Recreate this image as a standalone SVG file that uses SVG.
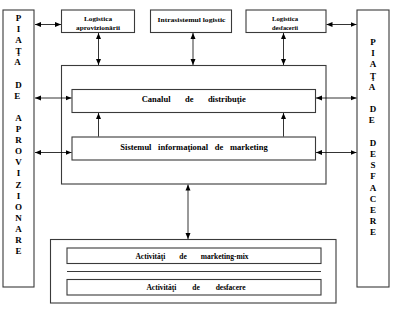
<svg xmlns="http://www.w3.org/2000/svg" width="400" height="311" viewBox="0 0 400 311">
<defs>
<marker id="ah" viewBox="0 0 6 6" refX="6" refY="3" markerWidth="6" markerHeight="6" markerUnits="userSpaceOnUse" orient="auto-start-reverse">
<path d="M0,0.5 L6,3 L0,5.5 Z" fill="#000"/>
</marker>
<style>
.box{fill:#fff;stroke:#3a3a3a;stroke-width:1.1}
.t{font-family:"Liberation Serif","Times New Roman",serif;font-weight:bold;fill:#000;text-anchor:middle}
.col{font-size:9px}
.sm{font-size:7px}
.bt{font-size:7.5px}
.md{font-size:8.5px}
.ar{stroke:#000;stroke-width:0.8;fill:none;marker-start:url(#ah);marker-end:url(#ah)}
.au{stroke:#000;stroke-width:0.8;fill:none;marker-end:url(#ah)}
</style>
</defs>
<rect width="400" height="311" fill="#fff"/>

<g id="piata-aprovizionare">
<rect class="box" x="3" y="10" width="31" height="277"/>
<text class="t col">
<tspan x="18.5" y="21">P</tspan><tspan x="18.5" y="32.1">I</tspan><tspan x="18.5" y="43.2">A</tspan><tspan x="18.5" y="54.3">Ţ</tspan><tspan x="18.5" y="65.4">A</tspan>
<tspan x="18.5" y="87.6">D</tspan><tspan x="18.5" y="98.7">E</tspan>
<tspan x="18.5" y="120.9">A</tspan><tspan x="18.5" y="132">P</tspan><tspan x="18.5" y="143.1">R</tspan><tspan x="18.5" y="154.2">O</tspan><tspan x="18.5" y="165.3">V</tspan><tspan x="18.5" y="176.4">I</tspan><tspan x="18.5" y="187.5">Z</tspan><tspan x="18.5" y="198.6">I</tspan><tspan x="18.5" y="209.7">O</tspan><tspan x="18.5" y="220.8">N</tspan><tspan x="18.5" y="231.9">A</tspan><tspan x="18.5" y="243">R</tspan><tspan x="18.5" y="254.1">E</tspan>
</text>
</g>

<g id="piata-desfacere">
<rect class="box" x="357" y="10" width="32" height="277"/>
<text class="t col">
<tspan x="373" y="45">P</tspan><tspan x="373" y="56.2">I</tspan><tspan x="373" y="67.4">A</tspan><tspan x="373" y="78.6">Ţ</tspan><tspan x="373" y="89.8">A</tspan>
<tspan x="373" y="112.2">D</tspan><tspan x="373" y="123.4">E</tspan>
<tspan x="373" y="145.8">D</tspan><tspan x="373" y="157">E</tspan><tspan x="373" y="168.2">S</tspan><tspan x="373" y="179.4">F</tspan><tspan x="373" y="190.6">A</tspan><tspan x="373" y="201.8">C</tspan><tspan x="373" y="213">E</tspan><tspan x="373" y="224.2">R</tspan><tspan x="373" y="235.4">E</tspan>
</text>
</g>

<g id="logistica-aprovizionarii">
<rect class="box" x="61.5" y="10" width="73" height="22.5"/>
<text class="t sm" x="98" y="20.5" textLength="28" lengthAdjust="spacingAndGlyphs">Logistica</text>
<text class="t sm" x="98" y="30" textLength="44" lengthAdjust="spacingAndGlyphs">aprovizionării</text>
</g>

<g id="intrasistemul-logistic">
<rect class="box" x="150.5" y="10" width="81" height="22.5"/>
<text class="t sm" x="191.5" y="21.5" textLength="68" lengthAdjust="spacingAndGlyphs">Intrasistemul logistic</text>
</g>

<g id="logistica-desfacerii">
<rect class="box" x="246" y="10" width="80" height="22.5"/>
<text class="t sm" x="285" y="21" textLength="26" lengthAdjust="spacingAndGlyphs">Logistica</text>
<text class="t sm" x="285" y="30" textLength="26" lengthAdjust="spacingAndGlyphs">desfacerii</text>
</g>

<g id="sistem-central">
<rect class="box" x="61.5" y="65.5" width="264.5" height="118.5"/>
</g>

<g id="canalul-distributie">
<rect class="box" x="72" y="89.5" width="243.5" height="23"/>
<text class="t md" x="193.7" y="102" word-spacing="12.3">Canalul de distribuţie</text>
</g>

<g id="sistemul-informational">
<rect class="box" x="72" y="137" width="243.5" height="23"/>
<text class="t md" x="194" y="149.5" word-spacing="4.5">Sistemul informaţional de marketing</text>
</g>

<g id="activitati">
<rect class="box" x="50.5" y="239.5" width="285.5" height="63.5"/>
<rect class="box" x="67" y="248" width="254" height="15.5"/>
<text class="t bt" x="192" y="258.5" word-spacing="12">Activităţi de marketing-mix</text>
<line x1="67" y1="271.5" x2="321" y2="271.5" stroke="#3a3a3a" stroke-width="1.1"/>
<rect class="box" x="67" y="279.5" width="254" height="15.5"/>
<text class="t bt" x="196" y="290" word-spacing="14">Activităţi de desfacere</text>
</g>

<g id="connectors">
<line class="ar" x1="35" y1="24.5" x2="61" y2="24.5"/>
<line class="ar" x1="326.5" y1="24.5" x2="356.5" y2="24.5"/>
<line class="ar" x1="98.5" y1="33" x2="98.5" y2="65"/>
<line class="ar" x1="193" y1="33" x2="193" y2="65"/>
<line class="ar" x1="283.5" y1="33" x2="283.5" y2="65"/>
<line class="ar" x1="35" y1="98" x2="71.5" y2="98"/>
<line class="ar" x1="316" y1="98" x2="356.5" y2="98"/>
<line class="ar" x1="35" y1="152.5" x2="71.5" y2="152.5"/>
<line class="ar" x1="316" y1="152.5" x2="356.5" y2="152.5"/>
<line class="au" x1="98.5" y1="136.5" x2="98.5" y2="113"/>
<line class="au" x1="283.5" y1="136.5" x2="283.5" y2="113"/>
<line class="ar" x1="188" y1="184.5" x2="188" y2="239"/>
</g>
</svg>
